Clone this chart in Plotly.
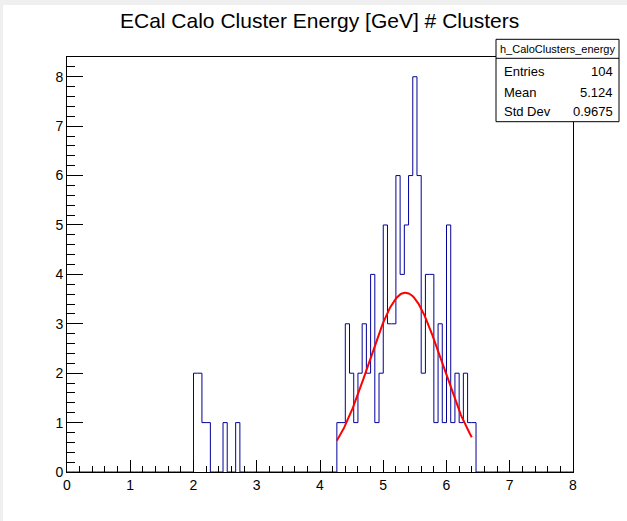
import numpy as np
import plotly.graph_objects as go

# ---------------- data ----------------
X_MIN, X_MAX, N_BINS = 0.0, 8.0, 120
# counts per bin (bin width 8/120)
counts = ([0] * 30
          + [2, 2, 1, 1, 0, 0, 0, 1, 0, 0, 1]
          + [0] * 23
          + [1, 1, 3, 2, 1, 2, 3, 2, 4, 1, 2, 5, 3, 3, 6, 4, 5, 6, 8, 6, 2,
             4, 4, 1, 3, 1, 5, 1, 2, 1, 2, 1, 1]
          + [0] * 23)

# gaussian fit parameters
fit_const, fit_mean, fit_sigma = 3.63, 5.35, 0.58
fit_range = (4.267, 6.40)

title_text = "ECal Calo Cluster Energy [GeV] # Clusters"
stats_name = "h_CaloClusters_energy"
stats_labels = ["Entries", "Mean", "Std Dev"]
stats_values = ["104", "5.124", "0.9675"]
x_tick_vals = [0, 1, 2, 3, 4, 5, 6, 7, 8]
y_tick_vals = [0, 1, 2, 3, 4, 5, 6, 7, 8]

# ---------------- figure ----------------
W, H = 627, 521
L, R, T, B = 67, 54, 57, 49
pw, ph = W - L - R, H - T - B

def px2x(px):
    return (px - L) / pw

def py2y(py):
    return (H - B - py) / ph

edges = np.linspace(X_MIN, X_MAX, N_BINS + 1)
step_y = list(counts) + [counts[-1]]

xf = np.linspace(fit_range[0], fit_range[1], 200)
yf = fit_const * np.exp(-0.5 * ((xf - fit_mean) / fit_sigma) ** 2)

FONT = "Liberation Sans, Arial, Helvetica, sans-serif"

fig = go.Figure()
fig.add_trace(go.Scatter(x=edges, y=step_y, mode="lines", line_shape="hv",
                         line=dict(color="#000099", width=1),
                         hoverinfo="skip", showlegend=False))
fig.add_trace(go.Scatter(x=xf, y=yf, mode="lines",
                         line=dict(color="#ff0000", width=2),
                         hoverinfo="skip", showlegend=False))

axis_common = dict(showline=True, linecolor="black", linewidth=1, mirror=True,
                   showgrid=False, zeroline=False, ticks="inside",
                   tickcolor="black", tickwidth=1,
                   tickfont=dict(family=FONT, size=14, color="black"))

fig.update_xaxes(range=[X_MIN, X_MAX], tickvals=x_tick_vals, ticklen=12,
                 minor=dict(dtick=0.2, ticks="inside", ticklen=6,
                            tickcolor="black", tickwidth=1, showgrid=False),
                 **axis_common)
fig.update_yaxes(range=[0, 8.4], tickvals=y_tick_vals, ticklen=16,
                 minor=dict(dtick=0.2, ticks="inside", ticklen=8,
                            tickcolor="black", tickwidth=1, showgrid=False),
                 **axis_common)

shapes = [
    # light gray window edges
    dict(type="rect", xref="paper", yref="paper", x0=px2x(0), x1=px2x(W),
         y0=py2y(5), y1=py2y(0), fillcolor="#efefef", line=dict(width=0), layer="above"),
    dict(type="rect", xref="paper", yref="paper", x0=px2x(0), x1=px2x(3),
         y0=py2y(H), y1=py2y(0), fillcolor="#efefef", line=dict(width=0), layer="above"),
    # stats box
    dict(type="rect", xref="paper", yref="paper", x0=px2x(496), x1=px2x(619),
         y0=py2y(121.7), y1=py2y(39.3), fillcolor="white",
         line=dict(color="black", width=1), layer="above"),
    dict(type="line", xref="paper", yref="paper", x0=px2x(496), x1=px2x(619),
         y0=py2y(58.3), y1=py2y(58.3), line=dict(color="black", width=1), layer="above"),
]

annotations = [
    dict(text=title_text, xref="paper", yref="paper", x=px2x(319), y=py2y(21),
         xanchor="center", yanchor="middle", showarrow=False,
         font=dict(family=FONT, size=21, color="black")),
    dict(text=stats_name, xref="paper", yref="paper", x=px2x(557.5), y=py2y(49),
         xanchor="center", yanchor="middle", showarrow=False,
         font=dict(family=FONT, size=11, color="black")),
]
row_y = [71.7, 92.3, 111.7]
for lab, val, yy in zip(stats_labels, stats_values, row_y):
    annotations.append(dict(text=lab, xref="paper", yref="paper", x=px2x(502),
                            y=py2y(yy), xanchor="left", yanchor="middle",
                            showarrow=False,
                            font=dict(family=FONT, size=13, color="black")))
    annotations.append(dict(text=val, xref="paper", yref="paper", x=px2x(615),
                            y=py2y(yy), xanchor="right", yanchor="middle",
                            showarrow=False,
                            font=dict(family=FONT, size=13, color="black")))

fig.update_layout(width=W, height=H, margin=dict(l=L, r=R, t=T, b=B),
                  paper_bgcolor="white", plot_bgcolor="white",
                  shapes=shapes, annotations=annotations, showlegend=False)

fig.write_html("out.html", config={"displayModeBar": False})
